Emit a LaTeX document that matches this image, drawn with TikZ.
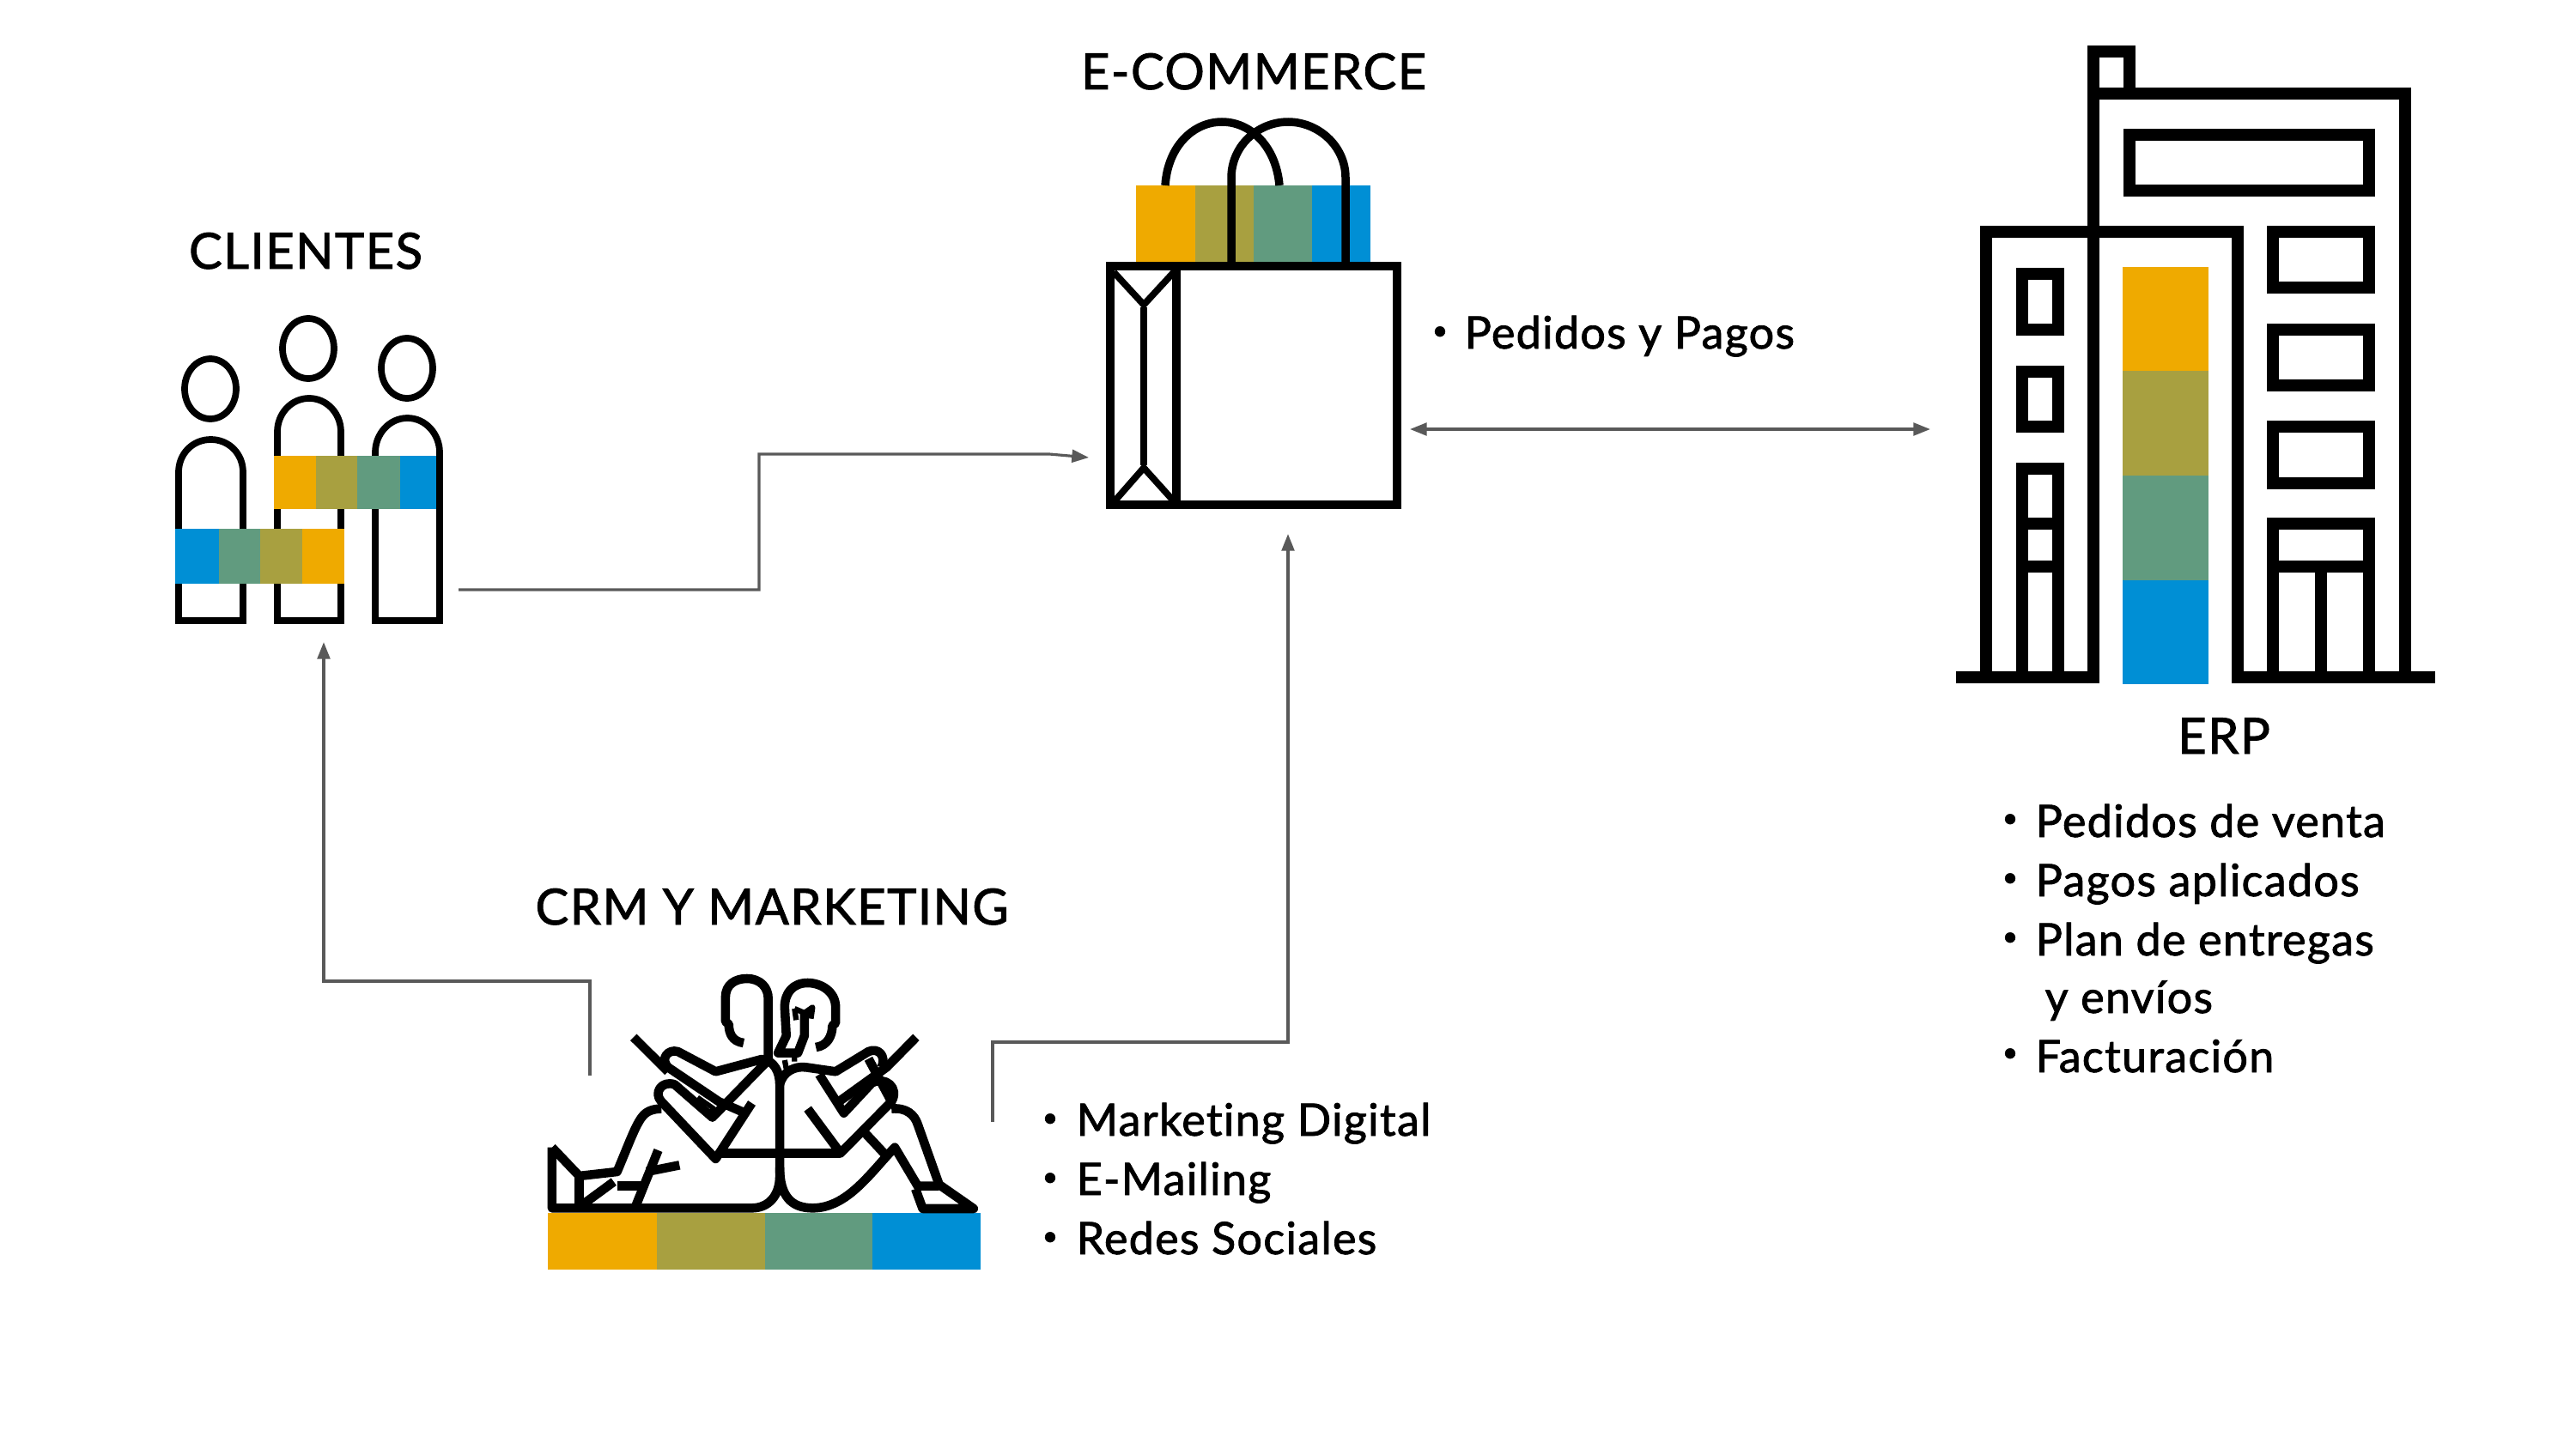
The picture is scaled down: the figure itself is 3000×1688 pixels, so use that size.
\documentclass[tikz,border=0pt]{standalone}
\usepackage{fontspec}
\setmainfont{Lato}[FakeBold=1.6,LetterSpace=2.5,Ligatures=NoCommon]
\usetikzlibrary{arrows.meta}
\definecolor{sorange}{HTML}{EFAA00}
\definecolor{solive}{HTML}{A8A040}
\definecolor{sgreen}{HTML}{619B7F}
\definecolor{sblue}{HTML}{008FD5}
\definecolor{conn}{HTML}{595959}
\tikzset{
  title/.style={inner sep=0pt,anchor=base,font=\fontsize{16.5}{18}\selectfont,text=black},
  item/.style={inner sep=0pt,anchor=base west,font=\fontsize{14.8}{18}\selectfont,text=black},
  dotm/.style={inner sep=0pt,anchor=center,font=\fontsize{9}{9}\selectfont,text=black},
  link/.style={draw=conn,line width=0.9pt,-{Triangle[length=5.6pt,width=4.2pt]}},
  dlink/.style={draw=conn,line width=0.9pt,{Triangle[length=5.6pt,width=4.2pt]}-{Triangle[length=5.6pt,width=4.2pt]}},
  ink/.style={draw=black,line width=4.2pt,miter limit=10},
  inkb/.style={draw=black,line width=2.7pt},
  inkp/.style={draw=black,line width=2.2pt},
  inkc/.style={draw=black,line width=3pt,line join=round},
}
\begin{document}
\begin{tikzpicture}[x=0.01cm,y=-0.01cm]
\useasboundingbox (0,0) rectangle (3000,1688);

% ERP building
\fill[sorange] (2472,311) rectangle (2572,432);
\fill[solive] (2472,432) rectangle (2572,554);
\fill[sgreen] (2472,554) rectangle (2572,676);
\fill[sblue] (2472,676) rectangle (2572,797);
\draw[ink] (2278,789) -- (2445,789);
\draw[ink] (2606,789) -- (2836,789);
\draw[ink] (2313,789) -- (2313,270) -- (2606,270) -- (2606,796);
\draw[ink] (2438,796) -- (2438,60) -- (2480,60) -- (2480,109);
\draw[ink] (2438,109) -- (2801,109) -- (2801,789);
\draw[ink] (2480,157) rectangle (2759,222);
\draw[ink] (2355,319) rectangle (2397,384);
\draw[ink] (2355,433) rectangle (2397,497);
\draw[ink] (2355,789) -- (2355,546) -- (2397,546) -- (2397,789);
\draw[ink] (2355,610) -- (2397,610) (2355,660) -- (2397,660);
\draw[ink] (2647,270) rectangle (2759,335);
\draw[ink] (2647,384) rectangle (2759,449);
\draw[ink] (2647,497) rectangle (2759,563);
\draw[ink] (2647,789) -- (2647,610) -- (2759,610) -- (2759,789);
\draw[ink] (2647,660) -- (2759,660) (2703,660) -- (2703,789);

% Shopping bag
\fill[sorange] (1323,216) rectangle (1392,307);
\fill[solive] (1392,216) rectangle (1460,307);
\fill[sgreen] (1460,216) rectangle (1528,307);
\fill[sblue] (1528,216) rectangle (1596,307);
\draw[inkb] (1357,216) .. controls (1360,170) and (1390,142) .. (1423,142) .. controls (1456,142) and (1486,170) .. (1490,216);
\draw[inkb] (1434,310) -- (1434,207) .. controls (1434,170) and (1465,142) .. (1500,142) .. controls (1535,142) and (1567,170) .. (1567,207) -- (1567,310);
\draw[inkb] (1293,310) rectangle (1627,588);
\draw[inkb] (1370,310) -- (1370,588);
\draw[inkp] (1332,358) -- (1332,542);
\draw[inkp] (1297,317) -- (1332,355) -- (1367,317);
\draw[inkp] (1297,585) -- (1332,545) -- (1368,585);

% People
\draw[inkp] (245,453) ellipse [x radius=30,y radius=35];
\draw[inkp] (359,406) ellipse [x radius=30,y radius=35];
\draw[inkp] (474,429) ellipse [x radius=30,y radius=35];
\draw[inkp] (208,723) -- (208,550) .. controls (208,529) and (224,512) .. (245.5,512) .. controls (267,512) and (283,529) .. (283,550) -- (283,723) -- cycle;
\draw[inkp] (323,723) -- (323,503) .. controls (323,482) and (339,464) .. (360,464) .. controls (381,464) and (397,482) .. (397,503) -- (397,723) -- cycle;
\draw[inkp] (437,723) -- (437,527) .. controls (437,506) and (453,487) .. (474.5,487) .. controls (496,487) and (512,506) .. (512,527) -- (512,723) -- cycle;
\fill[sorange] (319,531) rectangle (368,593);
\fill[solive] (368,531) rectangle (416,593);
\fill[sgreen] (416,531) rectangle (466,593);
\fill[sblue] (466,531) rectangle (508,593);
\fill[sblue] (204,616) rectangle (255,680);
\fill[sgreen] (255,616) rectangle (303,680);
\fill[solive] (303,616) rectangle (352,680);
\fill[sorange] (352,616) rectangle (401,680);

% CRM figures
\begin{scope}[shift={(600,1120)},xscale=0.3827,yscale=0.3333]
\fill[sorange] (100,878) rectangle (430,1078);
\fill[solive] (430,878) rectangle (760,1078);
\fill[sgreen] (760,878) rectangle (1088,1078);
\fill[sblue] (1088,878) rectangle (1416,1078);
% left person
\draw[inkc] (112,650) -- (112,862) -- (720,862) .. controls (770,862) and (805,820) .. (805,750) -- (805,430) .. controls (805,390) and (790,345) .. (750,342) -- (610,385) -- (495,315) .. controls (465,305) and (440,340) .. (465,370) -- (620,490) -- (690,525);
\draw[inkc] (112,650) -- (195,750) -- (310,735) .. controls (345,640) and (365,575) .. (385,545) .. controls (400,520) and (425,515) .. (445,515);
\draw[inkc] (195,750) -- (195,860);
\draw[inkc] (205,850) -- (300,770);
\draw[inkc] (310,785) -- (385,785);
\draw[inkc] (435,660) -- (365,860);
\draw[inkc] (400,735) -- (500,712);
\draw[inkc] (360,265) -- (465,385);
\draw[inkc] (720,495) -- (610,690) -- (445,490) .. controls (420,460) and (445,415) .. (485,430) -- (600,545) -- (770,345);
\draw[inkc,line width=1.6pt] (555,475) -- (605,515) -- (590,535);
% right person
\draw[inkc] (805,720) .. controls (805,820) and (840,862) .. (905,862) .. controls (1010,862) and (1080,740) .. (1155,650) -- (1225,785) -- (1290,785);
\draw[inkc] (805,430) .. controls (815,385) and (850,365) .. (885,370) -- (975,385) -- (1075,315) .. controls (1105,300) and (1130,330) .. (1115,370);
\draw[inkc] (925,395) -- (1000,530) -- (1085,425) .. controls (1125,400) and (1170,440) .. (1145,490) -- (990,670) -- (890,515);
\draw[inkc] (620,670) -- (990,670);
\draw[inkc] (1220,265) -- (1130,370) -- (985,490);
\draw[inkc] (1075,340) -- (1145,490);
\draw[inkc] (1065,600) -- (1130,680);
\draw[inkc] (1145,515) .. controls (1190,510) and (1215,535) .. (1225,570) -- (1290,780) -- (1395,864) -- (1240,864) -- (1218,795);
% heads
\draw[inkc] (695,285) .. controls (660,280) and (650,250) .. (650,220) -- (640,210) -- (640,125) .. controls (640,80) and (670,60) .. (705,60) .. controls (745,60) and (770,90) .. (770,130) -- (770,345);
\draw[inkc] (915,300) .. controls (950,295) and (965,260) .. (965,225) -- (975,215) -- (975,160) .. controls (975,105) and (930,75) .. (890,75) .. controls (845,75) and (820,110) .. (820,160) -- (825,260) -- (800,320) -- (860,320) -- (880,260) -- (880,170);
\draw[inkc,line width=1.8pt] (850,165) -- (880,180) -- (905,160) -- (900,200);
\draw[inkc,line width=1.8pt] (850,165) -- (855,205);
\draw[inkc,line width=1.8pt] (820,345) -- (825,375) (850,325) -- (850,350);
\end{scope}

% anchors for connectors
\coordinate (clientesOut) at (534,687);
\coordinate (bendA) at (884,687);
\coordinate (bendB) at (884,529);
\coordinate (bendC) at (1222,529);
\coordinate (ecomIn) at (1268,533);
\coordinate (ecomRight) at (1642,500);
\coordinate (erpLeft) at (2248,500);
\coordinate (crmLeftOut) at (687,1253);
\coordinate (bendD) at (687,1143);
\coordinate (bendE) at (377,1143);
\coordinate (clientesIn) at (377,748);
\coordinate (crmRightOut) at (1156,1307);
\coordinate (bendF) at (1156,1214);
\coordinate (bendG) at (1500,1214);
\coordinate (ecomBottom) at (1500,622);
\draw[link] (clientesOut) -- (bendA) -- (bendB) -- (bendC) -- (ecomIn);
\draw[dlink] (ecomRight) -- (erpLeft);
\draw[link] (crmLeftOut) -- (bendD) -- (bendE) -- (clientesIn);
\draw[link] (crmRightOut) -- (bendF) -- (bendG) -- (ecomBottom);

% Titles
\node[title] (tClientes) at (356,313) {CLIENTES};
\node[title] (tEcom) at (1460,104) {E-COMMERCE};
\node[title] (tErp) at (2590,878) {ERP};
\node[title] (tCrm) at (899,1077) {CRM Y MARKETING};

% Lists
\node[dotm] (d1) at (1677,388) {•};
\node[item] (p1) at (1705,406) {Pedidos y Pagos};
\node[dotm] (d2) at (1223,1305) {•};
\node[item] (m1) at (1253,1323) {Marketing Digital};
\node[dotm] (d3) at (1223,1374) {•};
\node[item] (m2) at (1253,1392) {E-Mailing};
\node[dotm] (d4) at (1223,1443) {•};
\node[item] (m3) at (1253,1461) {Redes Sociales};
\node[dotm] (d5) at (2341,956) {•};
\node[item] (e1) at (2370,975) {Pedidos de venta};
\node[dotm] (d6) at (2341,1025) {•};
\node[item] (e2) at (2370,1044) {Pagos aplicados};
\node[dotm] (d7) at (2341,1094) {•};
\node[item] (e3) at (2370,1113) {Plan de entregas};
\node[item] (e4) at (2381,1180) {y envíos};
\node[dotm] (d8) at (2341,1229) {•};
\node[item] (e5) at (2370,1249) {Facturación};
\end{tikzpicture}
\end{document}
